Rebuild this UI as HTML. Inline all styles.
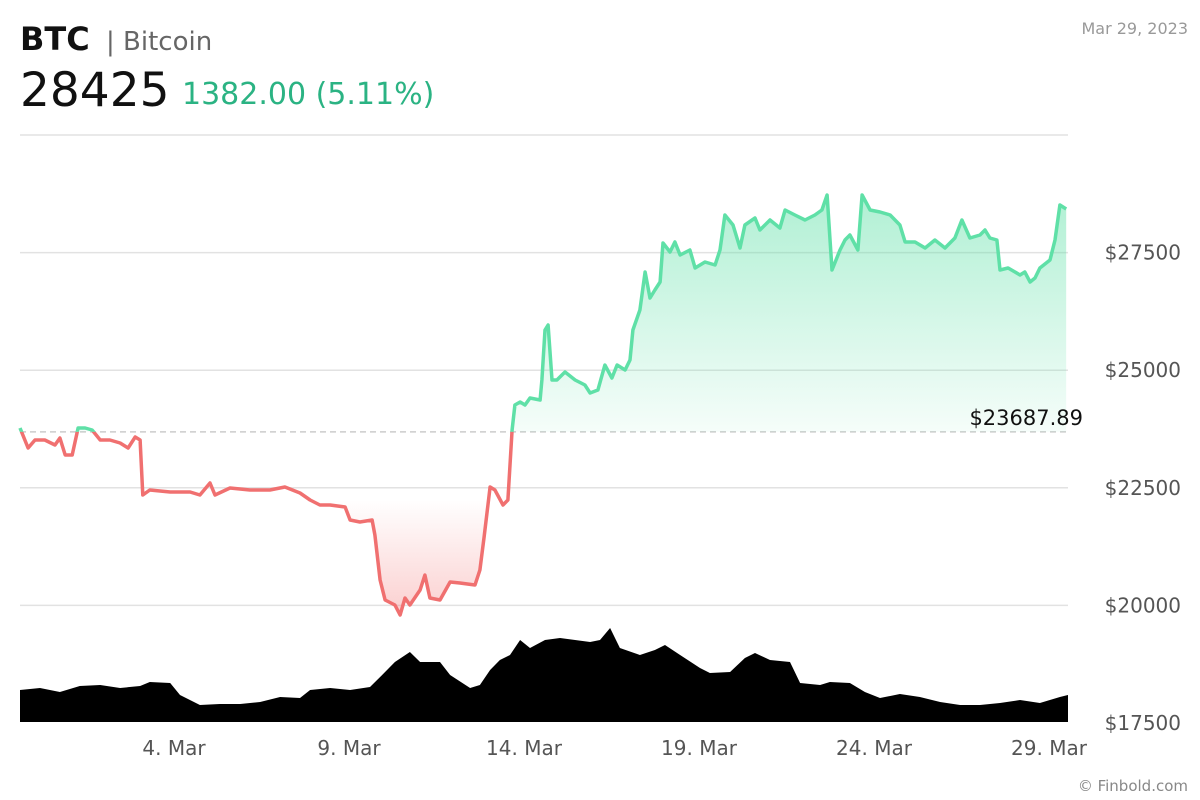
<!DOCTYPE html>
<html><head><meta charset="utf-8"><style>
html,body{margin:0;padding:0;background:#fff;width:1200px;height:800px;overflow:hidden;font-family:"DejaVu Sans","Liberation Sans",sans-serif}
</style></head><body>
<svg width="1200" height="800" xmlns="http://www.w3.org/2000/svg">
<defs>
<linearGradient id="gg" gradientUnits="userSpaceOnUse" x1="0" y1="190" x2="0" y2="432"><stop offset="0" stop-color="#5fe0a7" stop-opacity="0.5"/><stop offset="1" stop-color="#5fe0a7" stop-opacity="0.06"/></linearGradient>
<linearGradient id="rg" gradientUnits="userSpaceOnUse" x1="0" y1="500" x2="0" y2="620"><stop offset="0" stop-color="#f27070" stop-opacity="0"/><stop offset="1" stop-color="#f27070" stop-opacity="0.35"/></linearGradient>
<clipPath id="above"><rect id="ca" x="0" y="0" width="1200" height="0"/></clipPath>
<clipPath id="below"><rect id="cb" x="0" y="0" width="1200" height="800"/></clipPath>
</defs>
<text x="20" y="50" font-size="32" font-weight="bold" fill="#111">BTC</text>
<text x="106" y="50" font-size="26" fill="#666">| Bitcoin</text>
<text x="20" y="106" font-size="47" fill="#111">28425</text>
<text x="182" y="104" font-size="30" fill="#2bb383">1382.00 (5.11%)</text>
<text x="1188" y="34" font-size="16" fill="#999" text-anchor="end">Mar 29, 2023</text>
<g id="grid"></g>
<g id="vol"></g>
<g id="price"></g>
<g id="axes"></g>
<text x="1188" y="791" font-size="15" fill="#888" text-anchor="end">© Finbold.com</text>
</svg>
<script>
const days=[0,.23,.43,.71,1.0,1.14,1.29,1.49,1.66,1.86,2.06,2.29,2.57,2.86,3.09,3.29,3.43,3.51,3.71,4.29,4.86,5.14,5.43,5.57,6.0,6.57,7.14,7.57,8.0,8.29,8.57,8.86,9.29,9.43,9.71,10.06,10.14,10.29,10.43,10.71,10.86,11.0,11.14,11.43,11.57,11.71,12.0,12.29,12.57,13.0,13.14,13.26,13.43,13.57,13.8,13.94,14.06,14.14,14.29,14.43,14.57,14.86,14.91,15.0,15.09,15.2,15.34,15.57,15.86,16.14,16.29,16.51,16.71,16.91,17.06,17.29,17.43,17.51,17.71,17.86,18.0,18.14,18.29,18.37,18.57,18.71,18.86,19.14,19.29,19.57,19.86,20.0,20.14,20.37,20.57,20.71,21.0,21.14,21.43,21.71,21.86,22.14,22.43,22.71,22.91,23.06,23.2,23.43,23.57,23.71,23.94,24.06,24.29,24.57,24.86,25.14,25.29,25.57,25.86,26.14,26.43,26.71,26.91,27.14,27.43,27.57,27.71,27.91,28.0,28.23,28.43,28.57,28.71,28.86,29.0,29.14,29.43,29.57,29.71,29.89];
const prices=[23771,23346,23516,23516,23410,23558,23197,23197,23771,23771,23728,23516,23516,23452,23346,23580,23516,22346,22453,22410,22410,22346,22601,22346,22495,22453,22453,22516,22389,22240,22134,22134,22091,21815,21773,21815,21496,20539,20114,20008,19795,20157,20008,20327,20646,20157,20114,20497,20476,20433,20752,21454,22517,22453,22134,22240,23728,24260,24324,24260,24409,24366,24791,25854,25961,24791,24791,24962,24791,24685,24515,24579,25110,24834,25110,25004,25217,25854,26280,27087,26535,26705,26875,27704,27513,27725,27449,27555,27172,27300,27236,27555,28299,28087,27598,28087,28236,27980,28193,28023,28406,28299,28193,28299,28406,28724,27130,27555,27768,27874,27555,28724,28406,28363,28299,28087,27725,27725,27598,27768,27598,27810,28193,27810,27874,27980,27810,27768,27130,27172,27087,27024,27087,26875,26960,27172,27343,27768,28512,28427];
const volDays=[0,.57,1.14,1.71,2.29,2.86,3.43,3.71,4.29,4.57,5.14,5.71,6.29,6.86,7.43,8.0,8.29,8.86,9.43,10.0,10.29,10.71,11.14,11.43,12.0,12.29,12.86,13.14,13.43,13.71,14.0,14.29,14.57,15.0,15.43,15.86,16.29,16.57,16.86,17.14,17.71,18.14,18.43,18.86,19.43,19.71,20.29,20.71,21.0,21.43,22.0,22.29,22.86,23.14,23.71,24.14,24.57,25.14,25.71,26.29,26.86,27.43,28.0,28.57,29.14,29.71,29.94];
const volumes=[32,34,30,36,37,34,36,40,39,27,17,18,18,20,25,24,32,34,32,35,45,60,70,60,60,47,34,37,52,62,67,82,74,82,84,82,80,82,94,74,67,72,77,67,54,49,50,64,69,62,60,39,37,40,39,30,24,28,25,20,17,17,19,22,19,25,27];
const baseline=23687.89;
const yTicks=[17500,20000,22500,25000,27500,30000];
const xTickDays=[4.4,9.4,14.4,19.4,24.4,29.4];
const xTickLabels=["4. Mar","9. Mar","14. Mar","19. Mar","24. Mar","29. Mar"];
const X=d=>20+d*35, Y=p=>135+(30000-p)*0.04704, VY=v=>722-v;
const NS="http://www.w3.org/2000/svg";
function mk(tag,attrs,parent){const e=document.createElementNS(NS,tag);for(const k in attrs)e.setAttribute(k,attrs[k]);parent.appendChild(e);return e;}
const grid=document.getElementById('grid'),axes=document.getElementById('axes');
yTicks.forEach(t=>{
 if(t>17500){const l=mk('line',{x1:20,x2:1068,y1:Y(t),y2:Y(t),stroke:'#e2e2e2','stroke-width':1.5},grid);
 
 }
 if(t<30000){const tx=mk('text',{x:1181,y:Y(t)+7,'font-size':20,fill:'#555','text-anchor':'end'},axes);tx.textContent='$'+t;
 
 }
});
xTickDays.forEach((d,i)=>{const tx=mk('text',{x:X(d),y:755,'font-size':20,fill:'#555','text-anchor':'middle'},axes);tx.textContent=xTickLabels[i];
 
 });
const vg=document.getElementById('vol');let vp='M'+X(volDays[0])+',722';
volDays.forEach((d,i)=>{vp+=' L'+X(d).toFixed(1)+','+VY(volumes[i]);});
vp+=' L1068,'+VY(volumes[volumes.length-1])+' L1068,722 Z';
const va=mk('path',{d:vp,fill:'#000'},vg);


const by=Y(baseline);
document.getElementById('ca').setAttribute('height',by);
document.getElementById('cb').setAttribute('y',by);
const pg=document.getElementById('price');
const bl=mk('line',{x1:20,x2:1068,y1:by,y2:by,stroke:'#ccc','stroke-width':1.5,'stroke-dasharray':'6,4'},pg);


let lp='';days.forEach((d,i)=>{lp+=(i?' L':'M')+X(d).toFixed(1)+','+Y(prices[i]).toFixed(1);});
const ap=lp+' L'+X(days[days.length-1])+','+by+' L'+X(days[0])+','+by+' Z';
const ga=mk('path',{d:ap,fill:'url(#gg)','clip-path':'url(#above)'},pg);


const ra=mk('path',{d:ap,fill:'url(#rg)','clip-path':'url(#below)'},pg);


const gl=mk('path',{d:lp,fill:'none',stroke:'#5fe0a7','stroke-width':3.5,'stroke-linejoin':'round','clip-path':'url(#above)'},pg);


const rl=mk('path',{d:lp,fill:'none',stroke:'#f07070','stroke-width':3.5,'stroke-linejoin':'round','clip-path':'url(#below)'},pg);


const btx=mk('text',{x:1083,y:by-7,'font-size':21,fill:'#111','text-anchor':'end'},pg);btx.textContent='$'+baseline.toFixed(2);


</script>
</body></html>
